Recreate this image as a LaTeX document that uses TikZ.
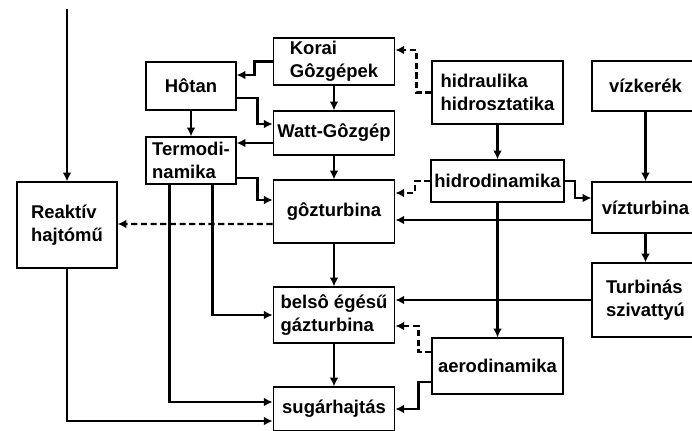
\documentclass[tikz,border=0pt]{standalone}
\usepackage{fontspec}
\setmainfont{Liberation Sans}
\usetikzlibrary{arrows.meta}

\begin{document}
\begin{tikzpicture}[>={Latex[length=5pt,width=5pt]},
    box/.style={draw, line width=0.7pt, font=\bfseries\fontsize{10.5}{13}\selectfont, align=left, inner sep=2pt},
    conn/.style={->, line width=1.3pt},
    dconn/.style={->, line width=1.3pt, dash pattern=on 3.5pt off 2pt}]

\clip (0,0) rectangle (13.84,8.6);

% === Bal oszlop ===
\coordinate (top) at (1.34,8.42);
\node[box, minimum width=2.0cm, minimum height=1.72cm] (reak) at (1.34,4.10) {Reaktív\\hajtómű};
\node[box, minimum width=1.8cm, minimum height=0.96cm] (hotan) at (3.82,6.88) {Hôtan};
\node[box, minimum width=1.8cm, minimum height=0.94cm] (termo) at (3.82,5.39) {Termodi-\\namika};

% === Hőerőgépek ===
\node[box, minimum width=2.43cm, minimum height=0.94cm] (korai) at (6.68,7.37) {Korai\\Gôzgépek};
\node[box, minimum width=2.43cm, minimum height=0.88cm] (watt) at (6.68,5.94) {Watt-Gôzgép};
\node[box, minimum width=2.43cm, minimum height=1.26cm] (goz) at (6.68,4.37) {gôzturbina};
\node[box, minimum width=2.43cm, minimum height=1.12cm] (bels) at (6.68,2.30) {belsô égésű\\gázturbina};
\node[box, minimum width=2.43cm, minimum height=0.88cm] (sug) at (6.68,0.42) {sugárhajtás};

% === Hidro- és aerodinamika ===
\node[box, minimum width=2.62cm, minimum height=1.26cm] (hidr) at (9.95,6.75) {hidraulika\\hidrosztatika};
\node[box, minimum width=2.62cm, minimum height=0.84cm] (hdin) at (9.95,4.98) {hidrodinamika};
\node[box, minimum width=2.62cm, minimum height=1.12cm] (aero) at (9.95,1.28) {aerodinamika};

% === Vízgépek ===
\node[box, minimum width=2.14cm, minimum height=1.0cm] (vker) at (12.91,6.88) {vízkerék};
\node[box, minimum width=2.14cm, minimum height=1.02cm] (vtur) at (12.91,4.45) {vízturbina};
\node[box, minimum width=2.14cm, minimum height=1.48cm] (turb) at (12.91,2.60) {Turbinás\\szivattyú};

% === Függőleges nyilak ===
\draw[conn] (top) -- (reak);
\foreach \a/\b in {hotan/termo, korai/watt, watt/goz, goz/bels, bels/sug,
                   hidr/hdin, hdin/aero, vker/vtur, vtur/turb}
    \draw[conn] (\a) -- (\b);

% === Törött nyilak ===
\draw[conn] (korai.west) -- ++(-0.36,0) |- ([yshift=0.22cm]hotan.east);
\draw[conn] ([yshift=-0.24cm]hotan.east) -- ++(0.42,0) |- ([yshift=0.18cm]watt.west);
\draw[conn] ([yshift=-0.2cm]watt.west) -- ([yshift=0.35cm]termo.east);
\draw[conn] ([yshift=-0.35cm]termo.east) -- ++(0.42,0) |- ([yshift=0.23cm]goz.west);
\draw[conn] ([xshift=0.43cm]termo.south) |- (bels.west);
\draw[conn] ([xshift=-0.43cm]termo.south) |- ([yshift=0.14cm]sug.west);
\draw[conn] (reak.south) |- ([yshift=-0.24cm]sug.west);
\draw[conn] (hdin.east) -- ++(0.2,0) |- ([yshift=0.19cm]vtur.west);
\draw[conn] ([yshift=-0.25cm]vtur.west) -- ([yshift=-0.17cm]goz.east);
\draw[conn] (turb.west) -- ([yshift=0.3cm]bels.east);
\draw[conn] ([yshift=-0.32cm]aero.west) -- ++(-0.26,0) |- (sug.east);

% === Szaggatott nyilak ===
\draw[dconn] (hidr.west) -- ++(-0.3,0) |- ([yshift=0.23cm]korai.east);
\draw[dconn] (hdin.west) -- ++(-0.3,0) |- ([yshift=0.37cm]goz.east);
\draw[dconn] ([yshift=-0.25cm]goz.west) -- ([yshift=0.02cm]reak.east);
\draw[dconn] ([yshift=0.28cm]aero.west) -- ++(-0.26,0) |- ([yshift=-0.22cm]bels.east);

\end{tikzpicture}
\end{document}
